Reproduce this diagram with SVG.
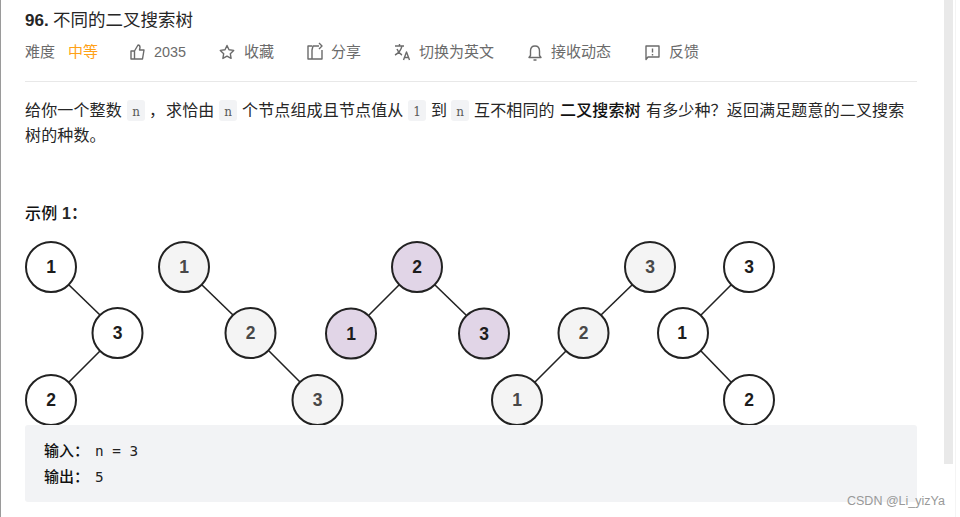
<svg xmlns="http://www.w3.org/2000/svg" width="960" height="517" viewBox="0 0 960 517">
<style>
text{font-family:"Liberation Sans","Noto Sans CJK SC",sans-serif;font-size:16px;letter-spacing:.15px;fill:#262626}
.m{fill:#6b6b6b;font-size:15px;letter-spacing:0}
.b{font-weight:500;fill:#111}
.h{font-size:15px;letter-spacing:0}
.c{font-family:"DejaVu Serif","Liberation Mono",monospace;font-size:12px;letter-spacing:0;fill:#595959;text-anchor:middle}
.x{font-family:"DejaVu Sans Mono","Liberation Mono",monospace;font-size:14.300px;letter-spacing:0;fill:#222}
.chip{fill:#f2f3f5}
.i{fill:none;stroke:#6b6b6b;stroke-width:1.4;stroke-linejoin:round}
.n circle{stroke:#222;stroke-width:2}
.n text{font-size:17.500px;letter-spacing:0;font-weight:700;text-anchor:middle;fill:#1c1c1c}
.w circle{fill:#fff}
.g circle{fill:#f4f4f4}
.g text{fill:#484848}
.p circle{fill:#e1d5e7}
.e line{stroke:#222;stroke-width:1.6}
</style>
<rect width="960" height="517" fill="#fff"/>
<rect x="0" y="0" width="1" height="517" fill="#9a9a9a"/>
<rect x="944" y="0" width="9" height="464" fill="#e9e9e9"/>
<rect x="955" y="0" width="1" height="517" fill="#f4f4f4"/>

<g id="header">
<text x="25" y="26" style="font-size:17px;font-weight:700;letter-spacing:0">96.</text>
<text x="53" y="26" style="font-size:17.500px;letter-spacing:0">不同的二叉搜索树</text>
<text x="25" y="57" class="m">难度</text>
<text x="68" y="57" class="m" style="fill:#ffa116">中等</text>
<path class="i" d="M131 51h3.500v8h-3.500zM134.500 51l3.500-6c1.500 0 2 1 2 2.500l-.5 2.500h4.500l-1.500 9h-8.500"/>
<text x="154" y="57" class="m" style="font-size:14.400px">2035</text>
<path class="i" d="M227 45.500l2 4.300 4.700.6-3.400 3.300.8 4.700-4.100-2.300-4.100 2.300.8-4.700-3.400-3.300 4.700-.6z"/>
<text x="244" y="57" class="m">收藏</text>
<path class="i" d="M312 46h-4v13h14v-9M312 59v-9l1-4h6M319 43l3 3-3 3"/>
<text x="331" y="57" class="m">分享</text>
<path class="i" d="M395 46h9M399.500 44v2M402 46c-1 4-3 7-7 9M397 49c1 3 3 5 5 6M403.500 60l3-8 3 8M404.500 57.500h4"/>
<text x="419" y="57" class="m">切换为英文</text>
<path class="i" d="M535 46c-3 0-4.500 2-4.500 5v4.500l-1.500 2h12l-1.500-2V51c0-3-1.500-5-4.500-5zM533.500 60h3"/>
<text x="551" y="57" class="m">接收动态</text>
<path class="i" d="M646 46h13v11h-11l-2 2.500zM652.500 48.500v4M652.500 54v1.500"/>
<text x="669" y="57" class="m">反馈</text>
<rect x="25" y="81" width="892" height="1" fill="#e8e8e8"/>
</g>

<g id="description">
<text x="25" y="116">给你一个整数</text>
<rect class="chip" x="127" y="100" width="18" height="21" rx="3"/>
<text class="c" x="136" y="116">n</text>
<text x="149" y="116">，</text>
<text x="166" y="116">求恰由</text>
<rect class="chip" x="219" y="100" width="18" height="21" rx="3"/>
<text class="c" x="228" y="116">n</text>
<text x="242" y="116">个节点组成且节点值从</text>
<rect class="chip" x="408" y="100" width="18" height="21" rx="3"/>
<text class="c" x="417" y="116">1</text>
<text x="431" y="116">到</text>
<rect class="chip" x="451" y="100" width="18" height="21" rx="3"/>
<text class="c" x="460" y="116">n</text>
<text x="474" y="116">互不相同的</text>
<text x="560" y="116" class="b">二叉搜索树</text>
<text x="646" y="116">有多少种？返回满足题意的二叉搜索</text>
<text x="25" y="141">树的种数。</text>
<text x="25" y="219" class="b">示例</text>
<text x="62" y="219" style="font-weight:700;letter-spacing:0">1：</text>
</g>

<g id="connectors" class="e">
<line x1="69" y1="285" x2="100" y2="315"/>
<line x1="100" y1="351" x2="69" y2="382"/>
<line x1="202" y1="285" x2="233" y2="315"/>
<line x1="269" y1="351" x2="300" y2="382"/>
<line x1="399" y1="285" x2="369" y2="315"/>
<line x1="435" y1="285" x2="466" y2="315"/>
<line x1="632" y1="285" x2="601" y2="315"/>
<line x1="566" y1="351" x2="535" y2="382"/>
<line x1="731" y1="285" x2="701" y2="315"/>
<line x1="701" y1="351" x2="731" y2="382"/>
</g>

<g id="t1-a" class="n w"><circle cx="51" cy="267" r="25"/><text x="51" y="273">1</text></g>
<g id="t1-b" class="n w"><circle cx="117.500" cy="333" r="25"/><text x="117.500" y="339">3</text></g>
<g id="t1-c" class="n w"><circle cx="51" cy="400" r="25"/><text x="51" y="406">2</text></g>
<g id="t2-a" class="n g"><circle cx="184" cy="267" r="25"/><text x="184" y="273">1</text></g>
<g id="t2-b" class="n g"><circle cx="250.500" cy="333" r="25"/><text x="250.500" y="339">2</text></g>
<g id="t2-c" class="n g"><circle cx="317.500" cy="400" r="25"/><text x="317.500" y="406">3</text></g>
<g id="t3-a" class="n p"><circle cx="417" cy="267" r="25"/><text x="417" y="273">2</text></g>
<g id="t3-b" class="n p"><circle cx="351" cy="333.500" r="25"/><text x="351" y="339.500">1</text></g>
<g id="t3-c" class="n p"><circle cx="484" cy="333.500" r="25"/><text x="484" y="339.500">3</text></g>
<g id="t4-a" class="n g"><circle cx="650" cy="267" r="25"/><text x="650" y="273">3</text></g>
<g id="t4-b" class="n g"><circle cx="583.500" cy="333" r="25"/><text x="583.500" y="339">2</text></g>
<g id="t4-c" class="n g"><circle cx="517" cy="400" r="25"/><text x="517" y="406">1</text></g>
<g id="t5-a" class="n w"><circle cx="749" cy="267" r="25"/><text x="749" y="273">3</text></g>
<g id="t5-b" class="n w"><circle cx="683" cy="333" r="25"/><text x="682" y="339">1</text></g>
<g id="t5-c" class="n w"><circle cx="749" cy="400" r="25"/><text x="749" y="406">2</text></g>

<g id="example">
<rect x="25" y="425" width="892" height="77" rx="3" fill="#f2f3f5"/>
<text x="44" y="456" class="b h">输入：</text>
<text x="95" y="456" class="x" xml:space="preserve">n = 3</text>
<text x="44" y="482" class="b h">输出：</text>
<text x="95" y="482" class="x">5</text>
</g>
<text id="watermark" x="847" y="505" style="font-size:12.500px;letter-spacing:0;fill:#999">CSDN @Li_yizYa</text>
</svg>
